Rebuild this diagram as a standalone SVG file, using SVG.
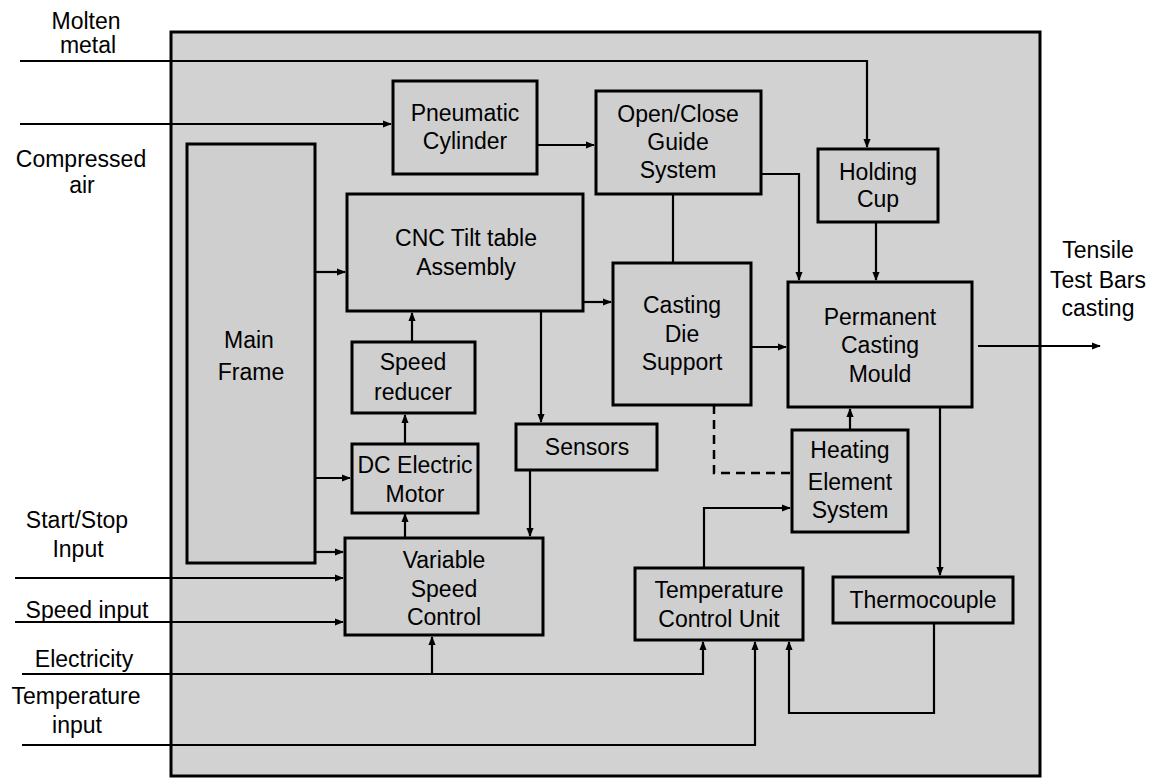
<svg xmlns="http://www.w3.org/2000/svg" width="1166" height="779" viewBox="0 0 1166 779">
<defs>
<marker id="ah" viewBox="0 0 10 10" refX="9" refY="5" markerWidth="9" markerHeight="9" markerUnits="userSpaceOnUse" orient="auto">
<path d="M0,1 L10,5 L0,9 z" fill="#000"/>
</marker>
</defs>
<style>
text{font-family:"Liberation Sans",Arial,sans-serif;font-size:23px;fill:#000;text-anchor:middle}
.box{fill:#cfcfcf;stroke:#000;stroke-width:3}
.ln{fill:none;stroke:#000;stroke-width:2.2}
.ar{fill:none;stroke:#000;stroke-width:2.2;marker-end:url(#ah)}
.dash{fill:none;stroke:#000;stroke-width:2.5;stroke-dasharray:9,6}
</style>
<rect width="1166" height="779" fill="#fff"/>
<rect id="frame" x="171" y="32" width="869" height="744" fill="#d2d2d2" stroke="#000" stroke-width="3"/>

<g id="labels">
<text x="86" y="29">Molten</text>
<text x="88" y="53">metal</text>
<text x="81" y="167">Compressed</text>
<text x="82" y="193">air</text>
<text x="77" y="528">Start/Stop</text>
<text x="78" y="557">Input</text>
<text x="87" y="618">Speed input</text>
<text x="84" y="667">Electricity</text>
<text x="76" y="704">Temperature</text>
<text x="77" y="733">input</text>
<text x="1098" y="258">Tensile</text>
<text x="1098" y="288">Test Bars</text>
<text x="1098" y="316">casting</text>
</g>

<g id="connectors">
<polyline class="ar" points="20,61 867,61 867,147"/>
<line class="ar" x1="20" y1="124" x2="391" y2="124"/>
<line class="ar" x1="537" y1="145" x2="594" y2="145"/>
<line class="ln" x1="673" y1="194" x2="673" y2="263"/>
<polyline class="ar" points="761,174 799,174 799,280"/>
<line class="ar" x1="876" y1="222" x2="876" y2="280"/>
<line class="ar" x1="315" y1="272" x2="345" y2="272"/>
<line class="ar" x1="315" y1="478" x2="350" y2="478"/>
<line class="ar" x1="315" y1="552" x2="343" y2="552"/>
<line class="ar" x1="412" y1="342" x2="412" y2="313"/>
<line class="ar" x1="405" y1="444" x2="405" y2="415"/>
<line class="ar" x1="405" y1="538" x2="405" y2="514"/>
<line class="ar" x1="541" y1="311" x2="541" y2="422"/>
<line class="ar" x1="530" y1="470" x2="530" y2="536"/>
<line class="ar" x1="583" y1="302" x2="611" y2="302"/>
<line class="ar" x1="751" y1="347" x2="786" y2="347"/>
<line class="ar" x1="978" y1="346" x2="1100" y2="346"/>
<line class="ar" x1="850" y1="430" x2="850" y2="409"/>
<polyline class="dash" points="714,405 714,473 792,473"/>
<polyline class="ar" points="704,568 704,508 790,508"/>
<line class="ar" x1="940" y1="407" x2="940" y2="575"/>
<polyline class="ar" points="934,623 934,713 789,713 789,642"/>
<line class="ar" x1="15" y1="578" x2="343" y2="578"/>
<line class="ar" x1="15" y1="622" x2="343" y2="622"/>
<polyline class="ar" points="22,674 703,674 703,642"/>
<polyline class="ar" points="432,674 432,637"/>
<polyline class="ar" points="22,745 755,745 755,642"/>
</g>

<g id="pneumatic"><rect class="box" x="393" y="81" width="144" height="93"/><text x="465" y="121">Pneumatic</text><text x="465" y="149">Cylinder</text></g>
<g id="openclose"><rect class="box" x="596" y="91" width="165" height="103"/><text x="678" y="122">Open/Close</text><text x="678" y="150">Guide</text><text x="678" y="178">System</text></g>
<g id="holding"><rect class="box" x="818" y="149" width="120" height="73"/><text x="878" y="180">Holding</text><text x="878" y="207">Cup</text></g>
<g id="mainframe"><rect class="box" x="187" y="144" width="128" height="419"/><text x="249" y="348">Main</text><text x="251" y="380">Frame</text></g>
<g id="cnc"><rect class="box" x="347" y="194" width="236" height="117"/><text x="466" y="246">CNC Tilt table</text><text x="466" y="275">Assembly</text></g>
<g id="speedreducer"><rect class="box" x="352" y="342" width="123" height="71"/><text x="413" y="370">Speed</text><text x="413" y="400">reducer</text></g>
<g id="dcmotor"><rect class="box" x="352" y="444" width="126" height="69"/><text x="415" y="473">DC Electric</text><text x="415" y="502">Motor</text></g>
<g id="vsc"><rect class="box" x="345" y="538" width="198" height="97"/><text x="444" y="568">Variable</text><text x="444" y="597">Speed</text><text x="444" y="625">Control</text></g>
<g id="sensors"><rect class="box" x="516" y="424" width="141" height="46"/><text x="587" y="455">Sensors</text></g>
<g id="castingdie"><rect class="box" x="613" y="263" width="138" height="142"/><text x="682" y="313">Casting</text><text x="682" y="342">Die</text><text x="682" y="370">Support</text></g>
<g id="mould"><rect class="box" x="788" y="282" width="184" height="125"/><text x="880" y="325">Permanent</text><text x="880" y="353">Casting</text><text x="880" y="382">Mould</text></g>
<g id="heating"><rect class="box" x="792" y="430" width="116" height="102"/><text x="850" y="458">Heating</text><text x="850" y="490">Element</text><text x="850" y="518">System</text></g>
<g id="tcu"><rect class="box" x="635" y="568" width="168" height="72"/><text x="719" y="598">Temperature</text><text x="719" y="627">Control Unit</text></g>
<g id="thermocouple"><rect class="box" x="833" y="577" width="180" height="46"/><text x="923" y="608">Thermocouple</text></g>
</svg>
